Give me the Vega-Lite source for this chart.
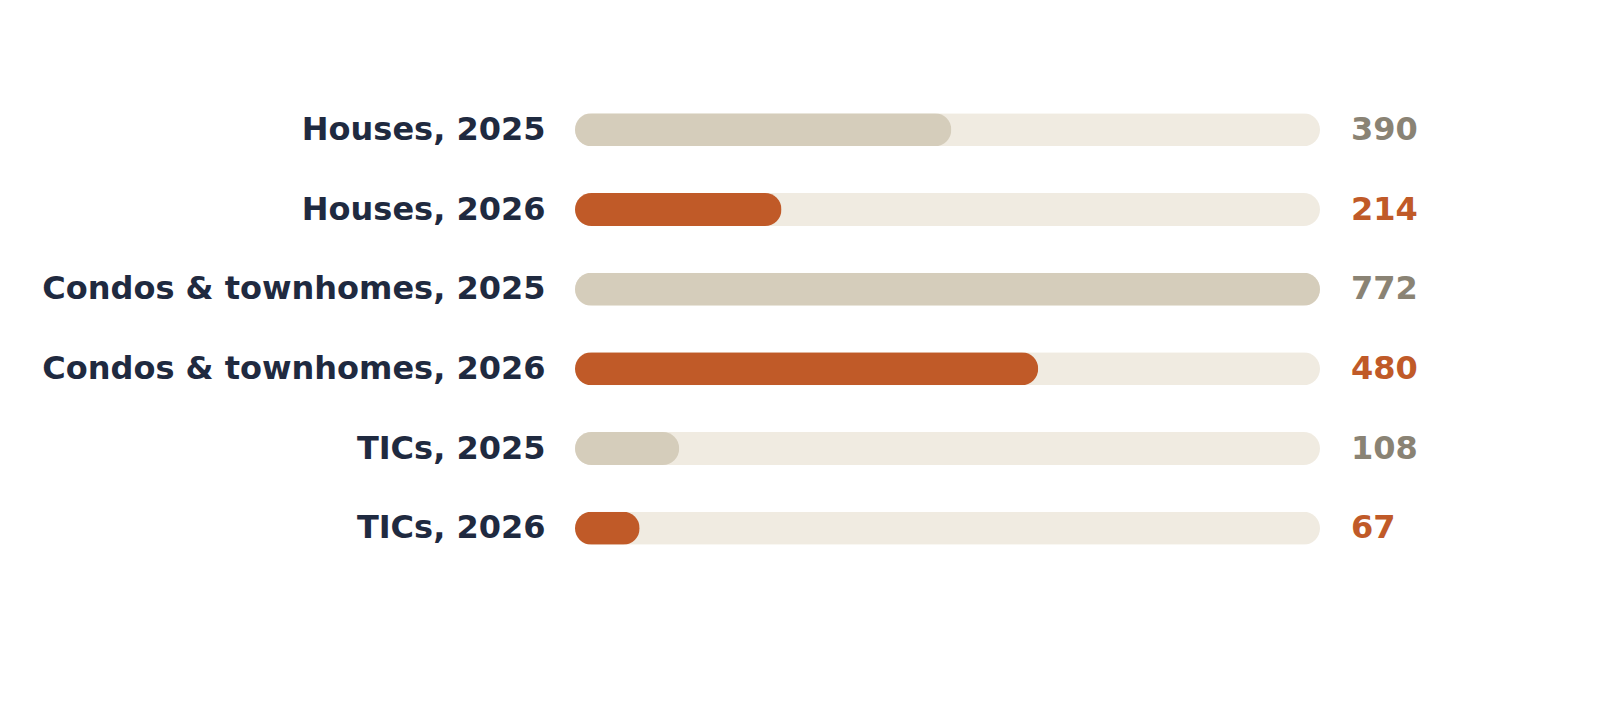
{
  "$schema": "https://vega.github.io/schema/vega-lite/v6.json",
  "autosize": "none",
  "padding": {"left": 575, "top": 90, "right": 303, "bottom": 142},
  "width": 745,
  "height": 478,
  "background": "white",
  "config": {"view": {"stroke": null}},
  "data": {"values": [
    {"label": "Houses, 2025", "year": "2025", "value": 390, "max": 772},
    {"label": "Houses, 2026", "year": "2026", "value": 214, "max": 772},
    {"label": "Condos & townhomes, 2025", "year": "2025", "value": 772, "max": 772},
    {"label": "Condos & townhomes, 2026", "year": "2026", "value": 480, "max": 772},
    {"label": "TICs, 2025", "year": "2025", "value": 108, "max": 772},
    {"label": "TICs, 2026", "year": "2026", "value": 67, "max": 772}
  ]},
  "encoding": {
    "y": {"field": "label", "type": "nominal", "sort": null,
      "scale": {"paddingInner": 0, "paddingOuter": 0},
      "axis": {"title": null, "domain": false, "ticks": false, "labelPadding": 30,
        "labelFont": "DejaVu Sans", "labelFontSize": 32, "labelFontWeight": "bold",
        "labelColor": "#1f2a40", "labelLimit": 0}}
  },
  "layer": [
    {
      "mark": {"type": "bar", "height": 33, "cornerRadius": 16.5, "color": "#f0ebe1"},
      "encoding": {
        "x": {"field": "max", "type": "quantitative", "scale": {"domain": [0, 772], "nice": false, "zero": true}, "axis": null}
      }
    },
    {
      "mark": {"type": "bar", "height": 33, "cornerRadius": 16.5},
      "encoding": {
        "x": {"field": "value", "type": "quantitative"},
        "color": {"field": "year", "type": "nominal", "legend": null,
          "scale": {"domain": ["2025", "2026"], "range": ["#d5cdbb", "#c05a28"]}}
      }
    },
    {
      "mark": {"type": "text", "align": "left", "baseline": "middle", "dx": 31,
        "font": "DejaVu Sans", "fontSize": 32, "fontWeight": "bold"},
      "encoding": {
        "x": {"field": "max", "type": "quantitative"},
        "text": {"field": "value", "type": "quantitative"},
        "color": {"field": "year", "type": "nominal", "legend": null,
          "scale": {"domain": ["2025", "2026"], "range": ["#8a8374", "#c05a28"]}}
      }
    }
  ],
  "resolve": {"scale": {"color": "independent"}}
}
